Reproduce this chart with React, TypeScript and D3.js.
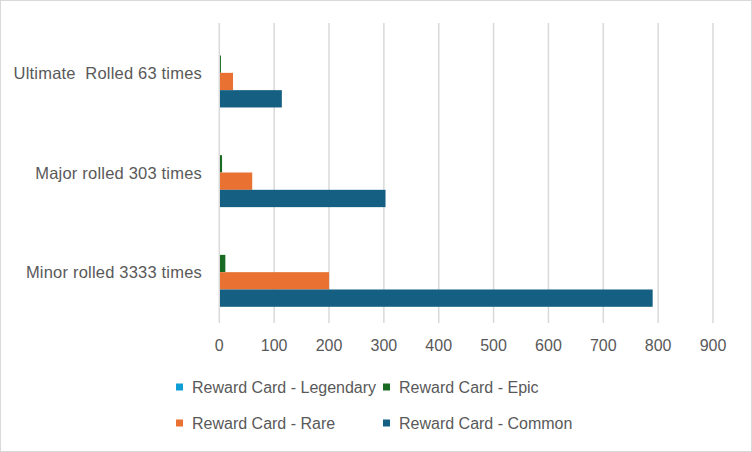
import React from "react";
import * as d3 from "d3";

const categories = ["Ultimate  Rolled 63 times", "Major rolled 303 times", "Minor rolled 3333 times"];
const seriesNames = ["Reward Card - Legendary", "Reward Card - Epic", "Reward Card - Rare", "Reward Card - Common"];
const legendary = [0, 0, 0];
const epic = [3, 5, 11];
const rare = [25, 60, 200];
const common = [114, 303, 790];
const xTicks = [0, 100, 200, 300, 400, 500, 600, 700, 800, 900];
const colors = ["#0F9ED5", "#196B24", "#E97132", "#156082"];

const W = 752;
const H = 452;
const FONT = "'Liberation Sans', Arial, sans-serif";
const TEXT = "#595959";

export default function App() {
  const seriesValues = [legendary, epic, rare, common];
  const x = d3.scaleLinear().domain([0, 900]).range([219.3, 713]);
  const y = d3.scaleBand<string>().domain(categories).range([23, 322]).paddingInner(0.305).paddingOuter(0.1525);
  const inner = d3.scaleBand<number>().domain([0, 1, 2, 3]).range([0, y.bandwidth()]);

  const legendPos = [
    { x: 176, y: 387 },
    { x: 383, y: 387 },
    { x: 176, y: 423 },
    { x: 383, y: 423 },
  ];

  return (
    <svg width={W} height={H} style={{ position: "absolute", left: 0, top: 0 }} fontFamily={FONT}>
      <rect x={0.5} y={0.5} width={W - 1} height={H - 1} fill="#fff" stroke="#D9D9D9" />
      {xTicks.map((t) => (
        <line key={t} x1={x(t)} x2={x(t)} y1={23} y2={323} stroke="#D9D9D9" strokeWidth={1.5} />
      ))}
      {categories.map((c, ci) => (
        <g key={c}>
          {seriesValues.map((vals, si) =>
            vals[ci] > 0 ? (
              <rect
                key={si}
                x={x(0) + 0.7}
                y={(y(c) as number) + (inner(si) as number)}
                width={Math.max(0, x(vals[ci]) - x(0) - 0.7)}
                height={inner.bandwidth()}
                fill={colors[si]}
              />
            ) : null
          )}
          <text
            x={202}
            y={(y(c) as number) + y.bandwidth() / 2}
            textAnchor="end"
            dominantBaseline="central"
            fontSize={16.5}
            letterSpacing={0.2}
            fill={TEXT}
            style={{ whiteSpace: "pre" }}
          >
            {c}
          </text>
        </g>
      ))}
      {xTicks.map((t) => (
        <text key={t} x={x(t)} y={345} textAnchor="middle" dominantBaseline="central" fontSize={16} fill={TEXT}>
          {t}
        </text>
      ))}
      {seriesNames.map((n, i) => (
        <g key={n}>
          <rect x={legendPos[i].x} y={legendPos[i].y - 3.5} width={7} height={7} fill={colors[i]} />
          <text x={legendPos[i].x + 16} y={legendPos[i].y} dominantBaseline="central" fontSize={16} fill={TEXT}>
            {n}
          </text>
        </g>
      ))}
    </svg>
  );
}
